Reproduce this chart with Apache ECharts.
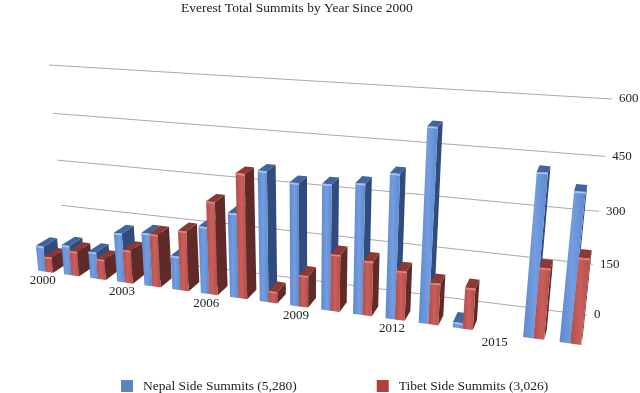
<!DOCTYPE html>
<html>
<head>
<meta charset="utf-8">
<style>
html, body { margin: 0; padding: 0; background: #fff; }
#chart { width: 640px; height: 393px; }
</style>
<script src="https://cdn.jsdelivr.net/npm/echarts@6/dist/echarts.min.js"></script>
</head>
<body>
<div id="chart"></div>
<script>
var years = ['2000', '2001', '2002', '2003', '2004', '2005', '2006', '2007', '2008', '2009', '2010', '2011', '2012', '2013', '2014', '2015', '2016', '2017'];
var nepal = [83, 95, 85, 155, 165, 105, 205, 255, 385, 360, 365, 375, 410, 540, 16, 0, 445, 405];
var tibet = [50, 80, 65, 105, 165, 185, 282, 372, 35, 95, 168, 160, 143, 120, 118, 0, 197, 235];
var yTicks = [0, 150, 300, 450, 600];
var yearLabels = ['2000', '2003', '2006', '2009', '2012', '2015'];

var myChart = echarts.init(document.getElementById('chart'));

// flat grid, only used for the scales. everything is warped onto the slanted planes below
var gridBox = { left: 60, top: 60, width: 520, height: 273 };
var wallQuad = [[65, 249], [587, 315], [612, 99], [49, 65]];
var frontQuad = [[33, 270], [589, 346], [614, 114], [14, 77]];
var vanish = [664, -129];
var backScale = 0.978;
var barFrac = 0.29;

function makeWarp(q) {
    var dx1 = q[1][0] - q[2][0], dx2 = q[3][0] - q[2][0];
    var dy1 = q[1][1] - q[2][1], dy2 = q[3][1] - q[2][1];
    var sx = q[0][0] - q[1][0] + q[2][0] - q[3][0];
    var sy = q[0][1] - q[1][1] + q[2][1] - q[3][1];
    var den = dx1 * dy2 - dx2 * dy1;
    var g = (sx * dy2 - dx2 * sy) / den;
    var h = (dx1 * sy - sx * dy1) / den;
    var a = q[1][0] - q[0][0] + g * q[1][0];
    var b = q[3][0] - q[0][0] + h * q[3][0];
    var d = q[1][1] - q[0][1] + g * q[1][1];
    var e = q[3][1] - q[0][1] + h * q[3][1];
    return function (px, py) {
        var u = (px - gridBox.left) / gridBox.width;
        var v = (gridBox.top + gridBox.height - py) / gridBox.height;
        var w = g * u + h * v + 1;
        return [(a * u + b * v + q[0][0]) / w, (d * u + e * v + q[0][1]) / w];
    };
}

var wallWarp = makeWarp(wallQuad);
var frontWarp = makeWarp(frontQuad);

// back of a bar: front point pulled towards the vanishing point
function backWarp(px, py) {
    var p = frontWarp(px, py);
    return [vanish[0] + (p[0] - vanish[0]) * backScale, vanish[1] + (p[1] - vanish[1]) * backScale];
}

function barItem(side, colors) {
    return function (params, api) {
        var val = api.value(1);
        if (!val) {
            return { type: 'group', children: [] };
        }
        var top = api.coord([api.value(0), val]);
        var bottom = api.coord([api.value(0), 0]);
        var band = api.size([1, 0])[0];
        var x0 = top[0] + (side < 0 ? -barFrac * band : 0);
        var x1 = x0 + barFrac * band;
        var z = params.dataIndex * 10 + (side < 0 ? 0 : 5);
        var fa = frontWarp(x0, bottom[1]), fb = frontWarp(x1, bottom[1]);
        var fc = frontWarp(x1, top[1]), fd = frontWarp(x0, top[1]);
        var bb = backWarp(x1, bottom[1]), bc = backWarp(x1, top[1]), bd = backWarp(x0, top[1]);
        return {
            type: 'group',
            children: [
                { type: 'polygon', z2: z, shape: { points: [fb, fc, bc, bb] }, style: { fill: colors.side } },
                { type: 'polygon', z2: z + 1, shape: { points: [fd, fc, bc, bd] }, style: { fill: colors.top } },
                {
                    type: 'polygon', z2: z + 2, shape: { points: [fa, fb, fc, fd] },
                    style: {
                        fill: new echarts.graphic.LinearGradient(0, 0, 1, 0, [
                            { offset: 0, color: colors.front0 },
                            { offset: 0.5, color: colors.front1 },
                            { offset: 1, color: colors.front0 }
                        ])
                    }
                },
                { type: 'line', z2: z + 3, shape: { x1: fd[0], y1: fd[1] + 1, x2: fc[0], y2: fc[1] + 1 }, style: { stroke: colors.edge, lineWidth: 1.5 } }
            ]
        };
    };
}

var option = {
    backgroundColor: '#fff',
    animation: false,
    title: {
        text: 'Everest Total Summits by Year Since 2000',
        left: 181,
        top: 1,
        padding: 0,
        textStyle: { fontFamily: 'Liberation Serif', fontSize: 13.5, fontWeight: 'normal', color: '#222' }
    },
    legend: {
        left: 121,
        top: 379,
        padding: 0,
        itemWidth: 12,
        itemHeight: 12,
        itemGap: 80,
        icon: 'rect',
        data: ['Nepal Side Summits (5,280)', 'Tibet Side Summits (3,026)'],
        textStyle: { fontFamily: 'Liberation Serif', fontSize: 13.5, color: '#222', padding: [0, 0, 0, 5] }
    },
    grid: gridBox,
    xAxis: { type: 'category', data: years, show: false },
    yAxis: { type: 'value', min: 0, max: 600, interval: 150, show: false },
    series: [
        {
            type: 'custom',
            name: 'wall',
            z: 1,
            data: yTicks.map(function (t) { return [t]; }),
            encode: { y: 0 },
            renderItem: function (params, api) {
                var py = api.coord([0, api.value(0)])[1];
                var p0 = wallWarp(gridBox.left, py);
                var p1 = wallWarp(gridBox.left + gridBox.width, py);
                return {
                    type: 'group',
                    children: [
                        { type: 'line', shape: { x1: p0[0], y1: p0[1], x2: p1[0], y2: p1[1] }, style: { stroke: '#aaa', lineWidth: 1 } },
                        {
                            type: 'text',
                            style: {
                                text: String(api.value(0)), x: p1[0] + 7, y: p1[1], align: 'left', verticalAlign: 'middle',
                                fontFamily: 'Liberation Serif', fontSize: 13, fill: '#222'
                            }
                        }
                    ]
                };
            }
        },
        {
            type: 'custom',
            name: 'years',
            z: 1,
            data: yearLabels.map(function (y) { return [y]; }),
            encode: { x: 0 },
            renderItem: function (params, api) {
                var label = yearLabels[params.dataIndex];
                var p = api.coord([years.indexOf(label), 0]);
                var f = frontWarp(p[0], p[1]);
                return {
                    type: 'text',
                    style: {
                        text: label, x: f[0] - 3, y: f[1] + 9, align: 'center', verticalAlign: 'middle',
                        fontFamily: 'Liberation Serif', fontSize: 13, fill: '#222'
                    }
                };
            }
        },
        {
            type: 'custom',
            name: 'Nepal Side Summits (5,280)',
            z: 2,
            itemStyle: { color: '#5b83c4' },
            data: nepal.map(function (v, i) { return [i, v]; }),
            encode: { x: 0, y: 1 },
            renderItem: barItem(-1, { front0: '#5f89cf', front1: '#739de0', side: '#2f4c7c', top: '#41659f', edge: '#a9c6ef' })
        },
        {
            type: 'custom',
            name: 'Tibet Side Summits (3,026)',
            z: 2,
            itemStyle: { color: '#b0403e' },
            data: tibet.map(function (v, i) { return [i, v]; }),
            encode: { x: 0, y: 1 },
            renderItem: barItem(1, { front0: '#b54d49', front1: '#c85f5a', side: '#5f2a27', top: '#8d3834', edge: '#d98a85' })
        }
    ]
};
myChart.setOption(option);
</script>
</body>
</html>
